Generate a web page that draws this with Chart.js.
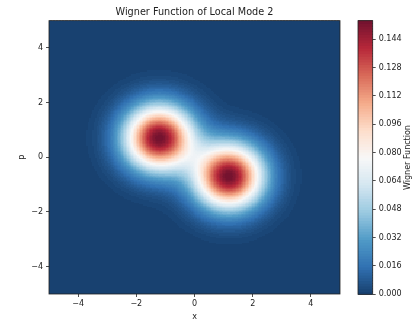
<!DOCTYPE html>
<html>
<head>
<meta charset="utf-8">
<script src="https://cdn.jsdelivr.net/npm/chart.js@4.4.0/dist/chart.umd.min.js"></script>
<style>
  html, body { margin: 0; padding: 0; background: #fff; }
  #wrap { position: relative; width: 414px; height: 324px; }
  #wrap canvas { position: absolute; left: 0; top: 0; }
</style>
</head>
<body>
<div id="wrap">
  <canvas id="plot" width="414" height="324"></canvas>
  <canvas id="cbar" width="414" height="324"></canvas>
</div>
<script>
// axis ticks
const xTicks = [-4, -2, 0, 2, 4];
const pTicks = [-4, -2, 0, 2, 4];
const cbarTicks = [0, 0.016, 0.032, 0.048, 0.064, 0.080, 0.096, 0.112, 0.128, 0.144];

// the two blobs (centre, height, width)
const peakX = [-1.2, 1.2];
const peakP = [0.72, -0.68];
const peakHeight = [0.1545, 0.1545];
const peakWidth = [0.82, 0.82];

const wMin = 0;
const wMax = 0.1545;
const nLevels = 100;
const gridStep = 0.05;

// RdBu_r
const cmapStops = [
  [5, 48, 97], [33, 102, 172], [67, 147, 195], [146, 197, 222], [209, 229, 240],
  [247, 247, 247], [253, 219, 199], [244, 165, 130], [214, 96, 77], [178, 24, 43], [103, 0, 31]
];
const fillAlpha = 0.93;

const cmap = (t) => {
  t = Math.min(1, Math.max(0, t)) * (cmapStops.length - 1);
  const i = Math.min(Math.floor(t), cmapStops.length - 2);
  const f = t - i;
  const a = cmapStops[i], b = cmapStops[i + 1];
  const c = a.map((v, k) => Math.round((v + (b[k] - v) * f) * fillAlpha + 255 * (1 - fillAlpha)));
  return `rgb(${c[0]},${c[1]},${c[2]})`;
};

const levelColor = (w) => {
  let idx = Math.floor((w - wMin) / (wMax - wMin) * nLevels);
  idx = Math.min(nLevels - 1, Math.max(0, idx));
  return cmap((idx + 0.5) / nLevels);
};

const wigner = (x, p) => {
  let w = 0;
  for (let i = 0; i < peakX.length; i++) {
    const dx = x - peakX[i], dp = p - peakP[i];
    w += peakHeight[i] * Math.exp(-(dx * dx + dp * dp) / (2 * peakWidth[i] * peakWidth[i]));
  }
  return w;
};

Chart.defaults.font.family = "'DejaVu Sans', sans-serif";
Chart.defaults.color = '#222';

const fmt = (v) => (v < 0 ? '\u2212' + Math.abs(v) : String(v));
const edge = '#222';
const tickSize = 8;

const heatmap = {
  id: 'heatmap',
  beforeDatasetsDraw(chart) {
    const { ctx, chartArea: a, scales: { x, y } } = chart;
    ctx.save();
    ctx.beginPath();
    ctx.rect(a.left, a.top, a.right - a.left, a.bottom - a.top);
    ctx.clip();
    const n = Math.round(10 / gridStep);
    for (let i = 0; i < n; i++) {
      const x0 = -5 + i * gridStep;
      const px0 = Math.floor(x.getPixelForValue(x0));
      const px1 = Math.floor(x.getPixelForValue(x0 + gridStep));
      for (let j = 0; j < n; j++) {
        const p0 = -5 + j * gridStep;
        const py0 = Math.floor(y.getPixelForValue(p0));
        const py1 = Math.floor(y.getPixelForValue(p0 + gridStep));
        ctx.fillStyle = levelColor(wigner(x0 + gridStep / 2, p0 + gridStep / 2));
        ctx.fillRect(px0, py1, px1 - px0 + 1, py0 - py1 + 1);
      }
    }
    ctx.restore();
  },
  afterDraw(chart) {
    const { ctx, chartArea: a } = chart;
    ctx.save();
    ctx.strokeStyle = edge;
    ctx.lineWidth = 0.8;
    ctx.strokeRect(a.left, a.top, a.right - a.left, a.bottom - a.top);
    ctx.restore();
  }
};

const colorbar = {
  id: 'colorbar',
  beforeDatasetsDraw(chart) {
    const { ctx, chartArea: a, scales: { y } } = chart;
    ctx.save();
    for (let k = 0; k < nLevels; k++) {
      const lo = wMin + (wMax - wMin) * k / nLevels;
      const hi = wMin + (wMax - wMin) * (k + 1) / nLevels;
      const y0 = y.getPixelForValue(lo), y1 = y.getPixelForValue(hi);
      ctx.fillStyle = cmap((k + 0.5) / nLevels);
      ctx.fillRect(a.left, y1 - 0.5, a.right - a.left, y0 - y1 + 1);
    }
    ctx.restore();
  },
  afterDraw(chart) {
    const { ctx, chartArea: a } = chart;
    ctx.save();
    ctx.strokeStyle = edge;
    ctx.lineWidth = 0.8;
    ctx.strokeRect(a.left, a.top, a.right - a.left, a.bottom - a.top);
    ctx.translate(407.5, (a.top + a.bottom) / 2);
    ctx.rotate(-Math.PI / 2);
    ctx.fillStyle = '#222';
    ctx.font = tickSize + "px 'DejaVu Sans', sans-serif";
    ctx.textAlign = 'center';
    ctx.textBaseline = 'middle';
    ctx.fillText('Wigner Function', 0, 0);
    ctx.restore();
  }
};

new Chart(document.getElementById('plot'), {
  type: 'scatter',
  data: { datasets: [] },
  options: {
    responsive: false,
    animation: false,
    layout: { padding: { left: 0, right: 74, top: 0, bottom: 0 } },
    plugins: {
      legend: { display: false },
      tooltip: { enabled: false },
      title: {
        display: true,
        fullSize: false,
        text: 'Wigner Function of Local Mode 2',
        color: '#222',
        font: { size: 9.7, weight: 'normal' },
        padding: { top: 7, bottom: 2 }
      }
    },
    scales: {
      x: {
        type: 'linear', min: -5, max: 5,
        afterBuildTicks: (s) => { s.ticks = xTicks.map((v) => ({ value: v })); },
        afterFit: (s) => { s.height = 30; },
        ticks: { callback: fmt, font: { size: tickSize }, padding: 2, maxRotation: 0 },
        grid: { drawOnChartArea: false, tickLength: 3, color: edge, lineWidth: 0.8 },
        border: { display: false },
        title: { display: true, text: 'x', font: { size: tickSize }, padding: { top: 0, bottom: 2.5 } }
      },
      y: {
        type: 'linear', min: -5, max: 5,
        afterBuildTicks: (s) => { s.ticks = pTicks.map((v) => ({ value: v })); },
        afterFit: (s) => { s.width = 49; },
        ticks: { callback: fmt, font: { size: tickSize }, padding: 3 },
        grid: { drawOnChartArea: false, tickLength: 3, color: edge, lineWidth: 0.8 },
        border: { display: false },
        title: { display: true, text: 'p', font: { size: tickSize }, padding: { top: 17.5, bottom: 0 } }
      }
    }
  },
  plugins: [heatmap]
});

new Chart(document.getElementById('cbar'), {
  type: 'scatter',
  data: { datasets: [] },
  options: {
    responsive: false,
    animation: false,
    layout: { padding: { left: 358, right: 0, top: 20.7, bottom: 29.7 } },
    plugins: { legend: { display: false }, tooltip: { enabled: false } },
    scales: {
      x: { display: false, min: 0, max: 1 },
      y: {
        position: 'right', min: wMin, max: wMax,
        afterBuildTicks: (s) => { s.ticks = cbarTicks.map((v) => ({ value: v })); },
        afterFit: (s) => { s.width = 41.3; },
        ticks: { callback: (v) => v.toFixed(3), font: { size: tickSize }, padding: 3 },
        grid: { drawOnChartArea: false, tickLength: 3, color: edge, lineWidth: 0.8 },
        border: { display: false }
      }
    }
  },
  plugins: [colorbar]
});
</script>
</body>
</html>
